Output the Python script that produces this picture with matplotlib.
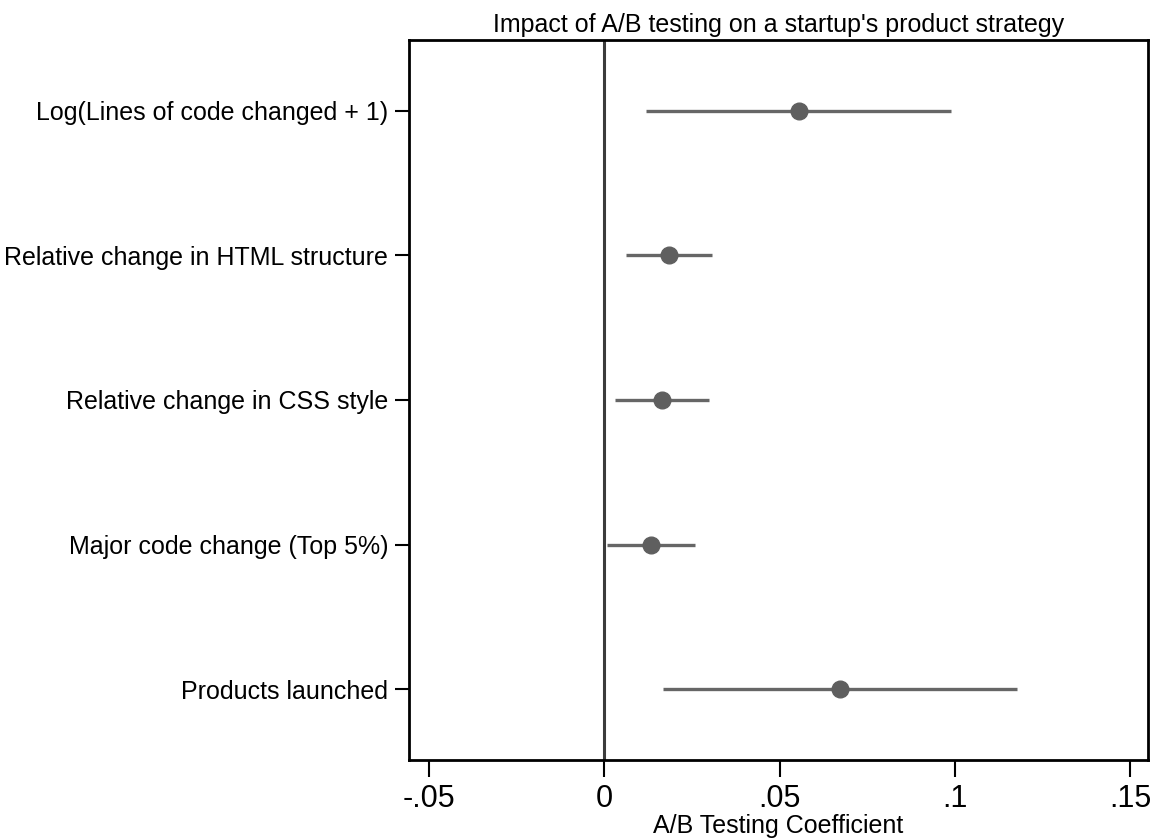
import matplotlib

matplotlib.use("Agg")
import matplotlib.pyplot as plt

# coefficient estimates and 95% CIs
outcomes = [
    "Log(Lines of code changed + 1)",
    "Relative change in HTML structure",
    "Relative change in CSS style",
    "Major code change (Top 5%)",
    "Products launched",
]
coef = [0.0554, 0.0185, 0.0165, 0.0135, 0.0673]
ci_low = [0.0118, 0.0063, 0.0032, 0.0009, 0.0169]
ci_high = [0.0988, 0.0308, 0.0299, 0.0260, 0.1178]
x_ticks = [-0.05, 0, 0.05, 0.1, 0.15]
x_tick_labels = ["-.05", "0", ".05", ".1", ".15"]

plt.rcParams["font.family"] = ["Liberation Sans", "DejaVu Sans"]

fig = plt.figure(figsize=(11.54, 8.4), dpi=100)
ax = fig.add_axes([409 / 1154, 1 - 760 / 840, (1148 - 409) / 1154, (760 - 40) / 840])

rows = list(range(1, len(outcomes) + 1))
ax.axvline(0, color="#3c3c3c", lw=2.2, zorder=1)
ax.hlines(rows, ci_low, ci_high, color="#666666", lw=2.4, zorder=2)
ax.plot(coef, rows, "o", color="#5f5f5f", markersize=12, zorder=3)

ax.set_xlim(-0.0556, 0.155)
ax.set_ylim(5.49, 0.51)
ax.set_yticks(rows)
ax.set_yticklabels(outcomes, fontsize=18)
ax.set_xticks(x_ticks)
ax.set_xticklabels(x_tick_labels, fontsize=22)
ax.tick_params(axis="x", length=12, width=1.5, pad=5)
ax.tick_params(axis="y", length=10, width=1.5, pad=5)
for spine in ax.spines.values():
    spine.set_linewidth(2)
ax.set_xlabel("A/B Testing Coefficient", fontsize=18, labelpad=0)
ax.set_title("Impact of A/B testing on a startup's product strategy", fontsize=18, pad=6)

fig.savefig("out.png")
